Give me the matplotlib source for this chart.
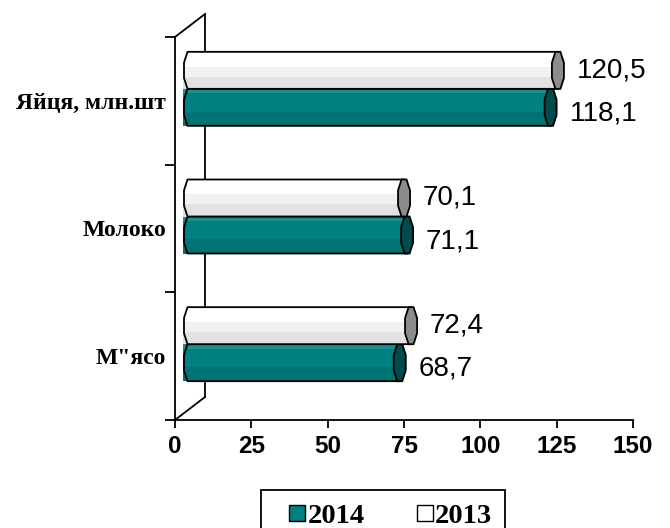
import numpy as np
import matplotlib
matplotlib.use('Agg')
from matplotlib import pyplot as plt
from matplotlib.patches import Polygon, Rectangle
from matplotlib.lines import Line2D

categories = ['М"ясо', 'Молоко', 'Яйця, млн.шт']
values_2014 = [68.7, 71.1, 118.1]
values_2013 = [72.4, 70.1, 120.5]
labels_2014 = ['68,7', '71,1', '118,1']
labels_2013 = ['72,4', '70,1', '120,5']
x_ticks = [0, 25, 50, 75, 100, 125, 150]

TEAL = '#008080'
W, H = 670, 528
ax_box = [175 / W, 108 / H, 458 / W, 383 / H]

# pixel -> data scale
px_x = 458 / 150.0
px_y = 383 / 3.0

bar_dx = 15 / px_x      # bar depth shift (data units)
bar_dy = 12 / px_y
wall_dx = 30 / px_x
wall_dy = 23 / px_y
bar_h = 37 / px_y
cap_r = 6.5 / px_x

C1 = np.cos(np.deg2rad(22.5))
S1 = np.sin(np.deg2rad(22.5))


def cylinder(ax, yc, value, bands, cap_color, z):
    x0 = bar_dx
    x1 = value + bar_dx
    yc = yc + bar_dy
    top, bot = yc + bar_h / 2, yc - bar_h / 2
    ry = (bar_h / 2) / C1
    body = Polygon([(x1, top), (x0 - cap_r * S1, top), (x0 - cap_r * C1, yc + ry * S1),
                    (x0 - cap_r * C1, yc - ry * S1), (x0 - cap_r * S1, bot), (x1, bot)],
                   closed=True, facecolor='none', edgecolor='black', lw=1.3,
                   clip_on=False, zorder=z + 0.2)
    ax.add_patch(body)
    # shading bands, top to bottom
    y = top
    for frac, col in bands:
        r = Rectangle((x0 - cap_r, y - frac * bar_h), x1 - x0 + cap_r, frac * bar_h,
                      facecolor=col, edgecolor='none', zorder=z, clip_on=False)
        ax.add_patch(r)
        r.set_clip_path(body)
        y -= frac * bar_h
    cap = Polygon([(x1 + cap_r * S1, top), (x1 - cap_r * S1, top), (x1 - cap_r * C1, yc + ry * S1),
                   (x1 - cap_r * C1, yc - ry * S1), (x1 - cap_r * S1, bot), (x1 + cap_r * S1, bot),
                   (x1 + cap_r * C1, yc - ry * S1), (x1 + cap_r * C1, yc + ry * S1)],
                  closed=True, facecolor=cap_color, edgecolor='black', lw=1.3,
                  clip_on=False, zorder=z + 0.3)
    ax.add_patch(cap)
    return x1, yc


fig = plt.figure(figsize=(W / 100, H / 100), dpi=100)
ax = fig.add_axes(ax_box)
ax.set_xlim(0, 150)
ax.set_ylim(0, 3)

teal_bands = [(0.12, '#1b8e8e'), (0.5, TEAL), (0.38, '#007474')]
white_bands = [(0.4, '#ffffff'), (0.27, '#f1f1f1'), (0.33, '#e2e2e2')]

for i in range(len(categories)):
    xe, ye = cylinder(ax, i + 0.5 - bar_h / 2, values_2014[i], teal_bands, '#004c4c', 3)
    ax.annotate(labels_2014[i], (xe, ye), xytext=(19, -6), textcoords='offset pixels',
                ha='left', va='center', fontsize=20, family='Liberation Sans',
                annotation_clip=False)
    xe, ye = cylinder(ax, i + 0.5 + bar_h / 2, values_2013[i], white_bands, '#8c8c8c', 4)
    ax.annotate(labels_2013[i], (xe, ye), xytext=(19, 0), textcoords='offset pixels',
                ha='left', va='center', fontsize=20, family='Liberation Sans',
                annotation_clip=False)

# 3D wall edges
ax.plot([wall_dx, wall_dx], [wall_dy, 3 + wall_dy], color='black', lw=1.3, clip_on=False, zorder=1)
ax.plot([0, wall_dx], [0, wall_dy], color='black', lw=1.3, clip_on=False, zorder=1)
ax.plot([0, wall_dx], [3, 3 + wall_dy], color='black', lw=1.3, clip_on=False, zorder=1)

for s in ['top', 'right']:
    ax.spines[s].set_visible(False)
for s in ['left', 'bottom']:
    ax.spines[s].set_linewidth(1.3)

ax.set_xticks(x_ticks)
ax.set_xticklabels([str(t) for t in x_ticks], fontsize=17.5, fontweight='bold', family='Liberation Sans')
ax.tick_params(axis='x', length=6, width=1.3, pad=5)
ax.set_yticks([0, 1, 2, 3])
ax.set_yticklabels([])
ax.tick_params(axis='y', length=7, width=1.3)
ax.set_yticks([0.5, 1.5, 2.5], minor=True)
ax.set_yticklabels(categories, minor=True, fontsize=17, fontweight='bold', family='Liberation Serif')
ax.tick_params(axis='y', which='minor', length=0, pad=6.5)

handles = [Line2D([], [], marker='s', ls='none', markersize=11.5, markerfacecolor=TEAL,
                  markeredgecolor='black', markeredgewidth=1),
           Line2D([], [], marker='s', ls='none', markersize=11.5, markerfacecolor='white',
                  markeredgecolor='black', markeredgewidth=1)]
leg = fig.legend(handles, ['2014', '2013'], loc='upper left', bbox_to_anchor=(261 / W, 1 - 490 / H),
                 ncol=2, fancybox=False, edgecolor='black', framealpha=1,
                 prop=dict(family='Liberation Serif', weight='bold', size=20.5),
                 handlelength=1.65, handletextpad=-0.47, columnspacing=1.3, borderpad=0.45,
                 borderaxespad=0)
leg.get_frame().set_linewidth(1.3)

fig.savefig('out.png', dpi=100)
